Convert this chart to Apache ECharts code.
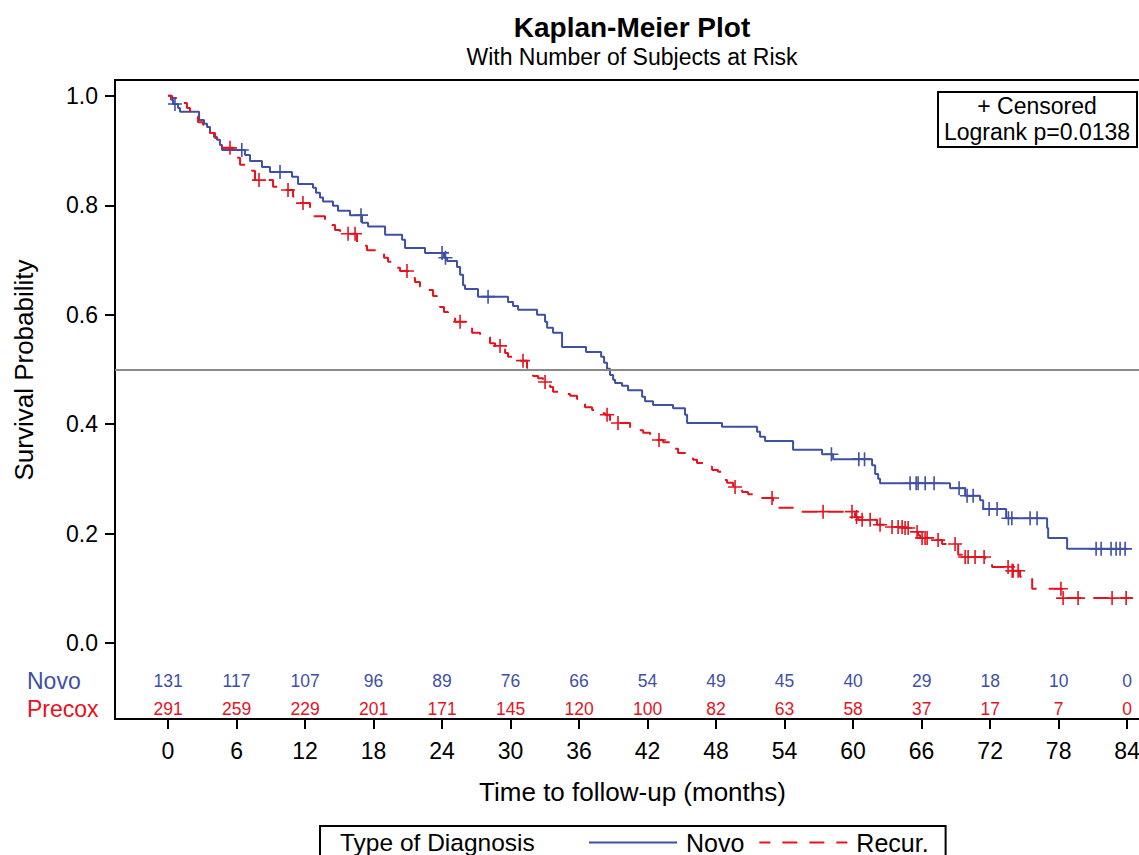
<!DOCTYPE html>
<html>
<head>
<meta charset="utf-8">
<script src="https://cdn.jsdelivr.net/npm/echarts@6/dist/echarts.min.js"></script>
<style>
html,body{margin:0;padding:0;background:#fff;}
#chart{width:1139px;height:855px;}
</style>
</head>
<body>
<div id="chart"></div>
<script>
// ---------- DATA ----------
const xTicks = [0, 6, 12, 18, 24, 30, 36, 42, 48, 54, 60, 66, 72, 78, 84];
const yTicks = [0, 0.2, 0.4, 0.6, 0.8, 1.0];
const riskNovo = [131, 117, 107, 96, 89, 76, 66, 54, 49, 45, 40, 29, 18, 10, 0];
const riskPrecox = [291, 259, 229, 201, 171, 145, 120, 100, 82, 63, 58, 37, 17, 7, 0];

// Kaplan-Meier steps: [time (months), survival after the drop]
const novoSteps = [
  [0,1.0],[0.26,0.993],[0.44,0.985],[0.88,0.978],[1.05,0.971],[2.72,0.956],[3.15,0.949],[3.42,0.943],
  [3.68,0.932],[4.03,0.925],[4.29,0.920],[4.55,0.910],[4.73,0.901],[6.74,0.892],[7.18,0.881],[8.23,0.870],
  [8.93,0.861],[10.86,0.852],[11.39,0.839],[12.70,0.832],[12.96,0.823],[13.31,0.814],[13.58,0.807],
  [14.45,0.799],[14.89,0.790],[15.94,0.782],[16.99,0.768],[17.52,0.761],[19.01,0.746],[20.50,0.737],
  [20.76,0.722],[22.51,0.713],[24.17,0.704],[24.44,0.698],[25.31,0.687],[25.58,0.673],[25.84,0.654],
  [26.01,0.647],[27.15,0.633],[29.78,0.623],[30.22,0.616],[30.66,0.609],[32.32,0.600],[33.02,0.587],
  [33.20,0.576],[33.72,0.567],[34.51,0.541],[36.61,0.532],[37.93,0.523],[38.19,0.512],[38.45,0.501],
  [38.71,0.490],[38.98,0.481],[39.15,0.475],[39.76,0.470],[40.29,0.462],[41.52,0.450],[41.78,0.442],
  [42.48,0.435],[44.23,0.429],[45.28,0.417],[45.46,0.402],[48.52,0.395],[51.59,0.386],[51.85,0.377],
  [52.29,0.369],[54.74,0.353],[57.28,0.345],[58.25,0.336],[61.66,0.325],[61.93,0.309],[62.19,0.300],
  [62.36,0.292],[68.49,0.283],[69.81,0.269],[71.12,0.261],[71.39,0.245],[73.40,0.228],[76.99,0.210],
  [77.08,0.192],[78.74,0.172],[84.0,0.172]
];
const recurSteps = [
  [0,1.0],[0.35,0.996],[0.79,0.992],[1.23,0.987],[1.66,0.978],[1.93,0.971],[2.19,0.967],[2.37,0.962],
  [2.63,0.952],[3.07,0.947],[3.42,0.943],[3.68,0.932],[4.12,0.923],[4.55,0.914],[4.73,0.905],[5.69,0.896],
  [6.04,0.887],[6.31,0.874],[6.83,0.868],[7.36,0.863],[7.62,0.846],[9.20,0.834],[9.63,0.830],[10.07,0.828],
  [10.95,0.816],[11.30,0.804],[12.44,0.790],[12.70,0.780],[13.75,0.771],[14.36,0.764],[14.63,0.755],
  [15.07,0.748],[16.55,0.731],[16.99,0.726],[17.43,0.718],[18.57,0.713],[18.92,0.704],[19.27,0.697],
  [19.88,0.686],[20.32,0.680],[21.20,0.667],[21.63,0.660],[22.07,0.651],[22.77,0.645],[23.21,0.634],
  [23.56,0.627],[23.82,0.614],[24.17,0.605],[24.52,0.596],[25.14,0.587],[26.19,0.578],[26.63,0.567],
  [27.33,0.563],[27.77,0.559],[28.20,0.548],[28.64,0.543],[29.52,0.530],[29.78,0.523],[30.31,0.519],
  [30.57,0.516],[31.44,0.503],[31.71,0.495],[31.97,0.488],[32.41,0.484],[32.85,0.477],[33.46,0.468],
  [33.72,0.459],[34.77,0.455],[35.21,0.452],[35.82,0.446],[36.26,0.437],[36.52,0.431],[37.14,0.426],
  [37.84,0.420],[38.28,0.417],[38.71,0.402],[40.47,0.393],[40.99,0.389],[41.61,0.384],[42.22,0.375],
  [42.74,0.371],[43.36,0.367],[43.97,0.362],[44.32,0.355],[44.67,0.347],[45.46,0.340],[45.98,0.335],
  [46.33,0.329],[47.03,0.322],[47.65,0.316],[48.17,0.313],[48.52,0.298],[48.96,0.293],[49.49,0.285],
  [50.28,0.276],[50.80,0.272],[51.24,0.271],[51.68,0.265],[52.99,0.257],[53.17,0.247],[55.09,0.240],
  [60.17,0.230],[60.44,0.225],[62.10,0.216],[63.33,0.212],[64.47,0.210],[65.17,0.203],[65.69,0.197],
  [65.87,0.192],[66.57,0.188],[67.79,0.181],[69.20,0.161],[69.54,0.157],[71.56,0.150],[72.17,0.139],
  [73.75,0.132],[74.62,0.121],[75.68,0.099],[78.30,0.082],[84.43,0.082]
];
const novoCensored = [
  [0.61,0.985],[6.46,0.901],[9.81,0.861],[16.9,0.782],[24.0,0.713],[24.3,0.704],[28.03,0.633],
  [58.1,0.345],[60.5,0.336],[61.0,0.336],[64.99,0.292],[65.52,0.292],[65.69,0.292],[66.31,0.292],
  [67.09,0.292],[69.28,0.283],[69.98,0.269],[70.51,0.269],[71.91,0.245],[72.61,0.245],[73.6,0.228],
  [73.9,0.228],[75.5,0.228],[76.11,0.228],[81.28,0.172],[81.72,0.172],[82.59,0.172],[83.03,0.172],
  [83.38,0.172],[83.82,0.172]
];
const recurCensored = [
  [5.43,0.905],[7.97,0.846],[10.51,0.828],[11.82,0.804],[15.77,0.748],[16.38,0.748],[20.93,0.680],
  [25.58,0.587],[29.08,0.543],[31.09,0.516],[33.02,0.477],[38.45,0.417],[39.41,0.402],[43.0,0.371],
  [49.66,0.285],[52.9,0.265],[57.37,0.240],[59.9,0.240],[60.3,0.230],[60.79,0.225],[61.49,0.225],
  [62.36,0.216],[63.41,0.212],[63.94,0.212],[64.29,0.212],[64.55,0.210],[64.82,0.210],[65.6,0.203],
  [66.04,0.192],[66.3,0.192],[66.48,0.192],[67.44,0.188],[68.93,0.181],[69.81,0.157],[70.07,0.157],
  [70.68,0.157],[71.47,0.157],[73.57,0.139],[73.93,0.132],[74.01,0.132],[74.45,0.132],[78.2,0.099],
  [78.39,0.082],[79.7,0.082],[82.68,0.082],[83.91,0.082]
];
const medianLine = 0.5;
const pValueText = 'Logrank p=0.0138';

// ---------- STYLE ----------
const BLUE = '#3F50A3';
const RED = '#E5131F';
const FONT = '"Liberation Sans", Arial, sans-serif';
const PLUS = 'path://M6.2,0H7.8V6.2H14V7.8H7.8V14H6.2V7.8H0V6.2H6.2Z';
const ROW_NOVO = -0.0695, ROW_PRECOX = -0.1207;

const chart = echarts.init(document.getElementById('chart'), null, {renderer: 'svg'});

function riskSeries(name, counts, row, color) {
  return {
    name: name, type: 'scatter',
    data: xTicks.map((t, i) => ({value: [t, row], n: counts[i]})),
    symbol: 'circle', symbolSize: 1,
    itemStyle: {color: 'rgba(255,255,255,0)', borderWidth: 0, opacity: 1},
    label: {show: true, position: 'inside', formatter: p => String(p.data.n),
      color: color, fontSize: 17.5, fontFamily: FONT, opacity: 1},
    silent: true, z: 5
  };
}

const option = {
  animation: false,
  backgroundColor: '#fff',
  textStyle: {fontFamily: FONT},
  grid: {
    left: 115, top: 80, right: -11, bottom: 136,
    show: true, borderColor: '#000', borderWidth: 2,
    outerBoundsMode: 'none', containLabel: false
  },
  xAxis: {
    type: 'value', min: -4.642, max: 86,
    name: 'Time to follow-up (months)', nameLocation: 'middle', nameGap: 60,
    nameTextStyle: {fontSize: 26, color: '#000', fontFamily: FONT},
    axisLine: {show: true, onZero: false, lineStyle: {color: '#000', width: 2}},
    axisTick: {show: true, customValues: xTicks, length: 10, lineStyle: {color: '#000', width: 2}},
    axisLabel: {customValues: xTicks, fontSize: 23, color: '#000', margin: 20, fontFamily: FONT},
    splitLine: {show: false}
  },
  yAxis: {
    type: 'value', min: -0.139, max: 1.029,
    axisLine: {show: true, onZero: false, lineStyle: {color: '#000', width: 2}},
    axisTick: {show: true, customValues: yTicks, length: 10, lineStyle: {color: '#000', width: 2}},
    axisLabel: {customValues: yTicks, fontSize: 23, color: '#000', margin: 17, fontFamily: FONT,
      formatter: v => Number(v).toFixed(1)},
    splitLine: {show: false}
  },
  legend: {
    data: ['Novo', 'Recur.'],
    left: 320, top: 826,
    orient: 'horizontal',
    padding: [4, 17, 30, 268],
    itemWidth: 88, itemHeight: 24, itemGap: 14,
    borderColor: '#000', borderWidth: 2,
    itemStyle: {opacity: 0},
    textStyle: {fontSize: 25, color: '#000', fontFamily: FONT, padding: [0, 0, 0, 4]},
    selectedMode: false
  },
  series: [
    {
      name: 'Novo', type: 'line', step: 'end', data: novoSteps,
      symbol: 'none', showSymbol: false,
      lineStyle: {color: BLUE, width: 2, type: 'solid'}, itemStyle: {color: BLUE},
      z: 3,
      markLine: {
        silent: true, symbol: 'none', label: {show: false},
        lineStyle: {color: '#8a8a8a', width: 2, type: 'solid'},
        data: [{yAxis: medianLine}]
      }
    },
    {
      name: 'Recur.', type: 'line', step: 'end', data: recurSteps,
      symbol: 'none', showSymbol: false,
      lineStyle: {color: RED, width: 2, type: [15, 12], dashOffset: 4}, itemStyle: {color: RED},
      z: 3
    },
    {
      name: 'Novo censored', type: 'scatter', data: novoCensored,
      symbol: PLUS, symbolSize: 14, itemStyle: {color: BLUE, opacity: 1}, z: 4
    },
    {
      name: 'Recur censored', type: 'scatter', data: recurCensored,
      symbol: PLUS, symbolSize: 14, itemStyle: {color: RED, opacity: 1}, z: 4
    },
    riskSeries('At risk Novo', riskNovo, ROW_NOVO, BLUE),
    riskSeries('At risk Precox', riskPrecox, ROW_PRECOX, RED)
  ],
  graphic: [
    {type: 'text', x: 632, y: 27, style: {text: 'Kaplan-Meier Plot', font: 'bold 28px ' + FONT,
      fill: '#000', align: 'center', verticalAlign: 'middle'}},
    {type: 'text', x: 632, y: 57, style: {text: 'With Number of Subjects at Risk', font: '23px ' + FONT,
      fill: '#000', align: 'center', verticalAlign: 'middle'}},
    {type: 'text', x: 24, y: 370, rotation: Math.PI / 2,
      style: {text: 'Survival Probability', font: '26px ' + FONT,
      fill: '#000', align: 'center', verticalAlign: 'middle'}},
    {type: 'text', x: 27, y: 681, style: {text: 'Novo', font: '23px ' + FONT,
      fill: BLUE, align: 'left', verticalAlign: 'middle'}},
    {type: 'text', x: 27, y: 709, style: {text: 'Precox', font: '23px ' + FONT,
      fill: RED, align: 'left', verticalAlign: 'middle'}},
    {type: 'text', x: 340, y: 842, style: {text: 'Type of Diagnosis', font: '24.5px ' + FONT,
      fill: '#000', align: 'left', verticalAlign: 'middle'}, z: 10},
    {type: 'rect', shape: {x: 938, y: 92, width: 199, height: 55},
      style: {fill: '#fff', stroke: '#000', lineWidth: 2}, z: 10},
    {type: 'text', x: 1037, y: 106, style: {text: '+ Censored', font: '23px ' + FONT,
      fill: '#000', align: 'center', verticalAlign: 'middle'}, z: 11},
    {type: 'text', x: 1037, y: 132, style: {text: pValueText, font: '23px ' + FONT,
      fill: '#000', align: 'center', verticalAlign: 'middle'}, z: 11}
  ]
};
chart.setOption(option);
</script>
</body>
</html>
